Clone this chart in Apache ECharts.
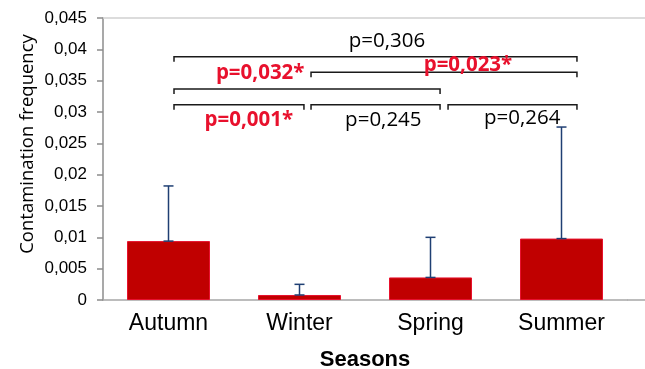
<!DOCTYPE html>
<html>
<head>
<meta charset="utf-8">
<script src="https://cdn.jsdelivr.net/npm/echarts@6/dist/echarts.min.js"></script>
<style>
html,body{margin:0;padding:0;background:#fff;}
#c{width:645px;height:369px;}
</style>
</head>
<body>
<div id="c"></div>
<script>
// ---- data ----
var categories = ["Autumn", "Winter", "Spring", "Summer"];
var frequency = [0.0094, 0.0008, 0.0036, 0.0098];
var errorPlus = [0.0088, 0.0017, 0.0064, 0.0178];
var yTickLabels = ["0", "0,005", "0,01", "0,015", "0,02", "0,025", "0,03", "0,035", "0,04", "0,045"];
// brackets: [from x, to x, level] (x in category units, 0..4)
var bracketFrom = [0.542, 1.588, 0.542, 0.542, 1.588, 2.634];
var bracketTo   = [3.618, 3.618, 2.573, 1.534, 2.573, 3.618];
var bracketLevel = [0.0388, 0.03633, 0.03367, 0.03116, 0.03116, 0.03116];
// p-value labels
var pText = ["p=0,306", "p=0,032*", "p=0,023*", "p=0,001*", "p=0,245", "p=0,264"];
var pX = [2.168, 1.2, 2.786, 1.113, 2.14, 3.2];
var pY = [0.0413, 0.0362, 0.0375, 0.0287, 0.0287, 0.0290];
var pSignificant = [false, true, true, true, false, false];

var chart = echarts.init(document.getElementById('c'));

var errData = categories.map(function (c, i) { return [i, frequency[i], frequency[i] + errorPlus[i]]; });
var bracketData = bracketFrom.map(function (f, i) { return [f, bracketTo[i], bracketLevel[i]]; });
var pData = pText.map(function (t, i) { return [pX[i], pY[i], i]; });

var option = {
  animation: false,
  grid: { left: 103, right: 18, top: 18, bottom: 69, containLabel: false, outerBoundsMode: 'none' },
  xAxis: [{
    type: 'category',
    data: categories,
    axisLine: { lineStyle: { color: '#A6A6A6', width: 1.5 } },
    axisTick: { show: false },
    axisLabel: { color: '#000', fontFamily: 'Liberation Sans', fontSize: 23, margin: 12 },
    name: 'Seasons',
    nameLocation: 'middle',
    nameGap: 49,
    nameMoveOverlap: false,
    nameTextStyle: { color: '#000', fontFamily: 'Liberation Sans', fontSize: 22, fontWeight: 'bold' }
  }, {
    type: 'value', min: 0, max: 4, show: false
  }],
  yAxis: {
    type: 'value',
    min: 0, max: 0.045, interval: 0.005,
    axisLine: { show: true, lineStyle: { color: '#8C8C8C', width: 1.5 } },
    axisTick: { show: true, inside: false, length: 6, lineStyle: { color: '#8C8C8C', width: 1.5 } },
    splitLine: { show: false },
    axisLabel: {
      color: '#000', fontFamily: 'Liberation Sans', fontSize: 17, margin: 16,
      formatter: function (v) { return yTickLabels[Math.round(v / 0.005)]; }
    },
    name: 'Contamination frequency',
    nameLocation: 'middle',
    nameGap: 66,
    nameMoveOverlap: false,
    nameTextStyle: { color: '#000', fontFamily: 'Open Sans', fontSize: 18.5, padding: [0, 0, 0, 30] }
  },
  series: [{
    type: 'bar',
    data: frequency,
    barWidth: 83,
    itemStyle: { color: '#C00000', borderColor: '#E8112D', borderWidth: 1 },
    z: 2
  }, {
    type: 'custom',
    data: errData,
    z: 3,
    renderItem: function (params, api) {
      var b = api.coord([api.value(0), api.value(1)]);
      var t = api.coord([api.value(0), api.value(2)]);
      var w = 5;
      var st = { stroke: '#1F3F73', lineWidth: 1.5 };
      return { type: 'group', children: [
        { type: 'line', shape: { x1: t[0], y1: b[1], x2: t[0], y2: t[1] }, style: st },
        { type: 'line', shape: { x1: t[0] - w, y1: t[1], x2: t[0] + w, y2: t[1] }, style: st },
        { type: 'line', shape: { x1: b[0] - w, y1: b[1], x2: b[0] + w, y2: b[1] }, style: st }
      ]};
    }
  }, {
    type: 'custom',
    xAxisIndex: 1,
    data: bracketData,
    z: 4,
    renderItem: function (params, api) {
      var a = api.coord([api.value(0), api.value(2)]);
      var b = api.coord([api.value(1), api.value(2)]);
      var h = 5;
      return { type: 'polyline', shape: { points: [[a[0], a[1] + h], [a[0], a[1]], [b[0], b[1]], [b[0], b[1] + h]] },
        style: { stroke: '#1a1a1a', lineWidth: 1.5, fill: null } };
    }
  }, {
    type: 'custom',
    xAxisIndex: 1,
    data: pData,
    z: 5,
    renderItem: function (params, api) {
      var p = api.coord([api.value(0), api.value(1)]);
      var i = api.value(2);
      var sig = pSignificant[i];
      return { type: 'text', x: p[0], y: p[1], style: {
        text: pText[i], align: 'center', verticalAlign: 'middle',
        fill: sig ? '#E8112D' : '#000',
        font: (sig ? 'bold ' : '') + '20.5px "Open Sans"'
      }};
    }
  }]
};
chart.setOption(option);

// frame lines: top border and right extension of the axis to the edge of the picture
var tl = chart.convertToPixel({ xAxisIndex: 1, yAxisIndex: 0 }, [0, 0.045]);
var br = chart.convertToPixel({ xAxisIndex: 1, yAxisIndex: 0 }, [4, 0]);
var W = chart.getWidth();
chart.setOption({ graphic: [
  { type: 'line', shape: { x1: tl[0], y1: tl[1], x2: W, y2: tl[1] }, style: { stroke: '#D0D0D0', lineWidth: 1.5 }, z: 1 },
  { type: 'line', shape: { x1: br[0], y1: br[1], x2: W, y2: br[1] }, style: { stroke: '#A6A6A6', lineWidth: 1.5 }, z: 1 }
]});
</script>
</body>
</html>
